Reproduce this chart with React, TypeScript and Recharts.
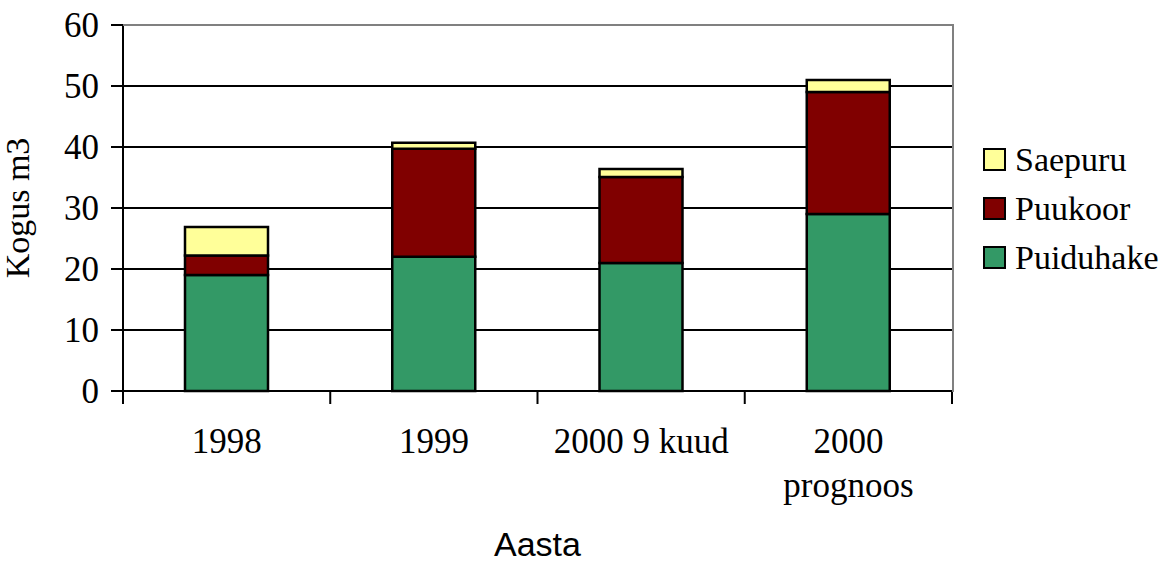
// @ts-nocheck
import { BarChart, Bar, XAxis, YAxis, CartesianGrid } from 'recharts';
import type { ReactElement } from 'react';

const categories = ['1998', '1999', '2000 9 kuud', '2000\nprognoos'];
const puiduhake = [19, 22, 21, 29];
const puukoor = [3.2, 17.7, 14.1, 20];
const saepuru = [4.7, 1.0, 1.3, 2.0];
const yTicks = [0, 10, 20, 30, 40, 50, 60];

const SERIES = [
  { key: 'Puiduhake', color: '#339966' },
  { key: 'Puukoor', color: '#800000' },
  { key: 'Saepuru', color: '#FFFF99' },
];

const W = 1171;
const H = 562;
const LEFT = 123;
const RIGHT = 952;
const TOP = 25;
const BOTTOM = 391;
const PLOT_W = RIGHT - LEFT;
const BAND = PLOT_W / categories.length;
const SERIF = '"Liberation Serif", "Times New Roman", serif';
const SANS = '"Liberation Sans", Arial, sans-serif';

const data = categories.map((name, i) => ({
  name,
  Puiduhake: puiduhake[i],
  Puukoor: puukoor[i],
  Saepuru: saepuru[i],
}));

function XTick({ x, y, payload, index }) {
  const lines = String(payload.value).split('\n');
  return (
    <g>
      <line x1={x - BAND / 2} x2={x - BAND / 2} y1={y} y2={y + 13} stroke="#000" strokeWidth={2} />
      {index === categories.length - 1 && (
        <line x1={x + BAND / 2} x2={x + BAND / 2} y1={y} y2={y + 13} stroke="#000" strokeWidth={2} />
      )}
      <text x={x} y={y + 62} textAnchor="middle" fontFamily={SERIF} fontSize={35} fill="#000">
        {lines.map((l, i) => (
          <tspan key={i} x={x} dy={i === 0 ? 0 : 44}>{l}</tspan>
        ))}
      </text>
    </g>
  );
}

function YLabel({ viewBox }) {
  const cy = viewBox.y + viewBox.height / 2;
  return (
    <text x={29} y={cy} transform={`rotate(-90, 29, ${cy})`} textAnchor="middle" fontFamily={SERIF} fontSize={34} fill="#000">
      Kogus m3
    </text>
  );
}

function LegendBox(): ReactElement {
  return (
    <div style={{ position: 'absolute', left: 983, top: 135, fontFamily: SERIF, fontSize: 34, color: '#000' }}>
      {[...SERIES].reverse().map((s) => (
        <div key={s.key} style={{ display: 'flex', alignItems: 'center', height: 49 }}>
          <div style={{ width: 23, height: 23, boxSizing: 'border-box', border: '2px solid #000', background: s.color, marginRight: 9 }} />
          <span style={{ lineHeight: '49px' }}>{s.key}</span>
        </div>
      ))}
    </div>
  );
}

export default function App(): ReactElement {
  return (
    <div style={{ position: 'absolute', left: 0, top: 0, width: W, height: H, background: '#fff' }}>
      <BarChart width={W} height={H} data={data} margin={{ top: TOP, right: W - RIGHT, bottom: 0, left: 0 }} barSize={83}>
        <CartesianGrid vertical={false} stroke="#000" strokeWidth={2} />
        <XAxis
          dataKey="name"
          height={H - BOTTOM}
          tick={<XTick />}
          tickLine={false}
          tickSize={0}
          tickMargin={0}
          interval={0}
          axisLine={{ stroke: '#000', strokeWidth: 2 }}
          label={{ value: 'Aasta', position: 'insideBottom', offset: 6, fontFamily: SANS, fontSize: 34, fill: '#000' }}
        />
        <YAxis
          width={LEFT}
          domain={[0, 60]}
          ticks={yTicks}
          interval={0}
          tickSize={12}
          tickMargin={12}
          tickLine={{ stroke: '#000', strokeWidth: 2 }}
          axisLine={{ stroke: '#000', strokeWidth: 2 }}
          tick={{ fontFamily: SERIF, fontSize: 35, fill: '#000' }}
          label={<YLabel />}
        />
        {SERIES.map((s) => (
          <Bar key={s.key} dataKey={s.key} stackId="a" fill={s.color} stroke="#000" strokeWidth={2.5} isAnimationActive={false} />
        ))}
      </BarChart>
      <div
        style={{
          position: 'absolute',
          left: LEFT,
          top: TOP - 1,
          width: PLOT_W,
          height: BOTTOM - TOP,
          borderTop: '2px solid #808080',
          borderRight: '2px solid #808080',
          pointerEvents: 'none',
        }}
      />
      <LegendBox />
    </div>
  );
}
